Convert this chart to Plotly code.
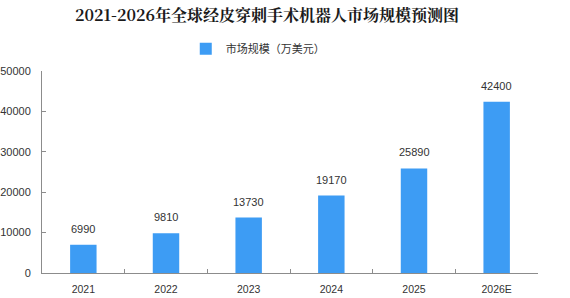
import plotly.graph_objects as go

categories = ["2021", "2022", "2023", "2024", "2025", "2026E"]
values = [6990, 9810, 13730, 19170, 25890, 42400]
series_name = "市场规模（万美元）"
title_text = "2021-2026年全球经皮穿刺手术机器人市场规模预测图"
y_ticks = [0, 10000, 20000, 30000, 40000, 50000]

bar_color = "#3d9cf4"
axis_color = "#8c8c8c"
text_color = "#333333"

fig = go.Figure()
fig.add_trace(go.Bar(
    x=categories, y=values, name=series_name,
    marker=dict(color=bar_color, line=dict(width=0)),
    width=0.32, showlegend=True,
))

for i, v in enumerate(values):
    fig.add_annotation(
        x=i, y=v, xref="x", yref="y", text=str(v), showarrow=False,
        yanchor="bottom", yshift=8,
        font=dict(family="Liberation Sans, Arial", size=11, color=text_color),
    )

fig.update_layout(
    width=570, height=298,
    margin=dict(l=42, r=32, t=71, b=25),
    paper_bgcolor="white", plot_bgcolor="white",
    title=dict(
        text="<b>" + title_text + "</b>",
        x=267 / 570, xanchor="center", y=1 - 15 / 298, yanchor="middle",
        font=dict(family="Noto Serif CJK SC, Noto Sans CJK SC", size=16, color="#1a1a1a"),
    ),
    legend=dict(
        orientation="h", x=0.435, xanchor="center", y=1.11, yanchor="middle",
        font=dict(family="Noto Sans CJK SC", size=11, color=text_color),
        itemwidth=30, bgcolor="rgba(0,0,0,0)",
    ),
)

fig.update_xaxes(
    type="category", categoryorder="array", categoryarray=categories,
    range=[-0.5, len(categories) - 0.5], automargin=False,
    showline=True, linecolor=axis_color, linewidth=1,
    ticks="inside", ticklen=4, tickcolor=axis_color, tickson="boundaries",
    tickangle=0, ticklabelstandoff=6,
    tickfont=dict(family="Liberation Sans, Arial", size=10.5, color=text_color),
    showgrid=False, zeroline=False,
)
fig.update_yaxes(
    range=[0, 50000], tickvals=y_ticks, ticktext=[str(t) for t in y_ticks],
    showline=True, linecolor=axis_color, linewidth=1,
    ticks="inside", ticklen=4, tickcolor=axis_color,
    tickfont=dict(family="Liberation Sans, Arial", size=11, color=text_color),
    showgrid=False, zeroline=False, automargin=False, ticklabelstandoff=8,
)

fig.write_html("out.html")
